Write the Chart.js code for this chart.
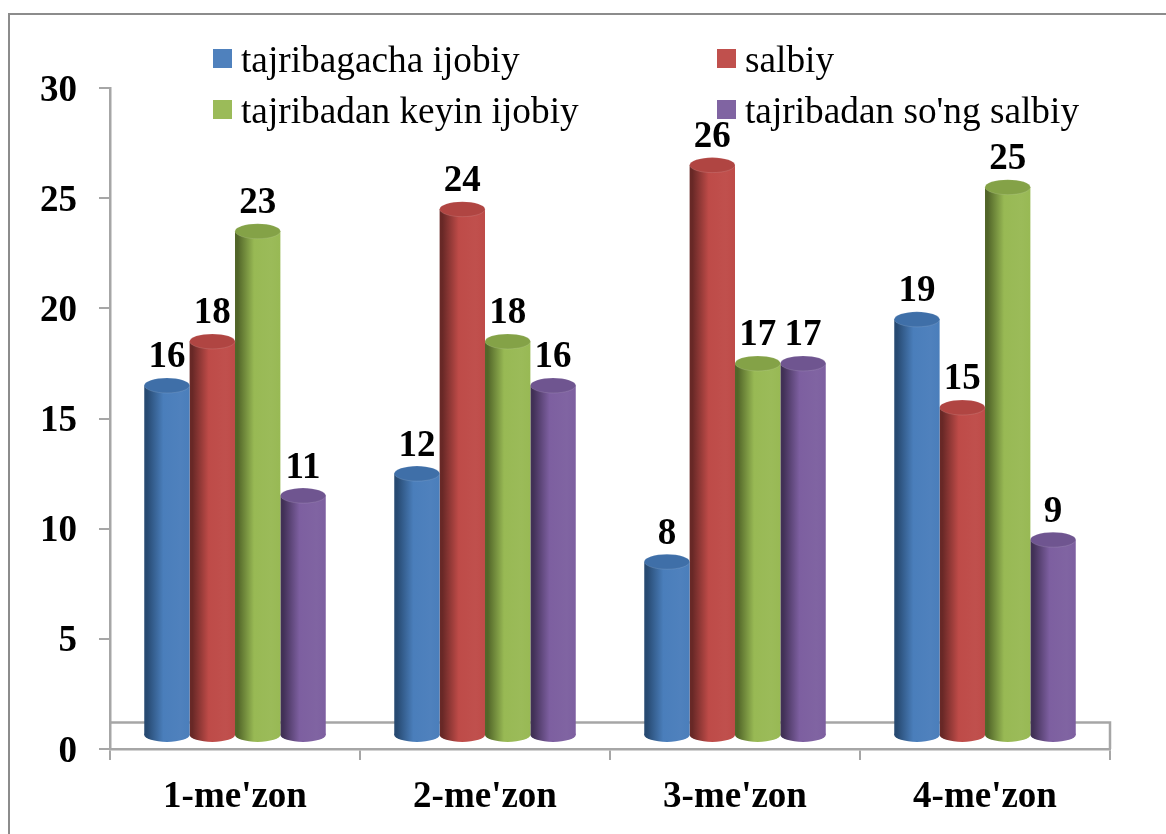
<!DOCTYPE html>
<html>
<head>
<meta charset="utf-8">
<style>
html,body{margin:0;padding:0;background:#fff;width:1166px;height:834px;overflow:hidden}
#wrap{position:absolute;left:0;top:0;width:1166px;height:834px;overflow:hidden}
#frame{position:absolute;left:8px;top:13px;width:1300px;height:1000px;border:2px solid #8c8c8c;box-sizing:border-box}
canvas{position:absolute;left:0;top:0}
</style>
<script src="https://cdn.jsdelivr.net/npm/chart.js@4"></script>
</head>
<body>
<div id="wrap"><div id="frame"></div><canvas id="c" width="1166" height="834"></canvas></div>
<script>
const categories = ["1-me'zon","2-me'zon","3-me'zon","4-me'zon"];
const seriesNames = ["tajribagacha ijobiy","salbiy","tajribadan keyin ijobiy","tajribadan so'ng salbiy"];
const before_pos = [16,12,8,19];
const before_neg = [18,24,26,15];
const after_pos = [23,18,17,25];
const after_neg = [11,16,17,9];
const yTicks = [0,5,10,15,20,25,30];

const palette = [
  {main:'#4f81bd', dark:'#274a72', mid:'#4a7ebb', top:'#3f6fa8'},
  {main:'#c0504d', dark:'#682826', mid:'#be4b48', top:'#b04542'},
  {main:'#9bbb59', dark:'#526629', mid:'#98b954', top:'#84a247'},
  {main:'#8064a2', dark:'#413056', mid:'#7d5fa0', top:'#6f5590'}
];
const serif = '"Liberation Serif","Times New Roman",serif';
const CAT_PCT = 0.726;
const LIFT = 0.5;      // the 3D cylinders rise half a unit above the axis plane
const FLOOR = 1.2;     // back edge of the chart floor, in axis units
const BASE = 0.14;

function sideGradient(ctx,cx,w,p){
  const g = ctx.createLinearGradient(cx-w/2,0,cx+w/2,0);
  g.addColorStop(0,p.dark);
  g.addColorStop(0.06,p.dark);
  g.addColorStop(0.42,p.mid);
  g.addColorStop(0.8,p.main);
  g.addColorStop(1,p.mid);
  return g;
}
function barGradient(c){
  const chart = c.chart, p = palette[c.datasetIndex];
  const xs = chart.scales && chart.scales.x;
  if(!xs || c.dataIndex === undefined) return p.main;
  const w = (xs.getPixelForValue(1)-xs.getPixelForValue(0))*CAT_PCT/4;
  const cx = xs.getPixelForValue(c.dataIndex)+(c.datasetIndex-1.5)*w;
  if(!isFinite(w) || !isFinite(cx) || w<=0) return p.main;
  return sideGradient(chart.ctx,cx,w,p);
}

const cylinders = {
  id:'cylinders',
  beforeDatasetsDraw(chart){
    const {ctx,scales:{x,y}} = chart;
    const fy = y.getPixelForValue(FLOOR);
    ctx.save();
    ctx.strokeStyle='#a6a6a6'; ctx.lineWidth=2.5;
    ctx.beginPath();
    ctx.moveTo(x.left,fy); ctx.lineTo(x.right,fy); ctx.lineTo(x.right,y.bottom);
    ctx.stroke();
    ctx.restore();
  },
  beforeDatasetDraw(chart,args){
    const {ctx,scales:{y}} = chart;
    ctx.save();
    ctx.translate(0,y.getPixelForValue(LIFT)-y.getPixelForValue(0));
    // rounded foot of every cylinder, below the rectangle the library draws
    chart.getDatasetMeta(args.index).data.forEach(bar=>{
      const by = y.getPixelForValue(BASE);
      ctx.beginPath();
      ctx.ellipse(bar.x,by,bar.width/2,7,0,0,Math.PI*2);
      ctx.fillStyle=sideGradient(ctx,bar.x,bar.width,palette[args.index]);
      ctx.fill();
    });
  },
  afterDatasetDraw(chart,args){
    const {ctx} = chart;
    const p = palette[args.index];
    chart.getDatasetMeta(args.index).data.forEach(bar=>{
      ctx.beginPath();
      ctx.ellipse(bar.x,bar.y,bar.width/2,7.5,0,0,Math.PI*2);
      ctx.fillStyle=p.top; ctx.fill();
      ctx.lineWidth=1; ctx.strokeStyle='rgba(255,255,255,0.12)'; ctx.stroke();
    });
    ctx.restore();
  },
  afterDatasetsDraw(chart){
    const {ctx,scales:{y}} = chart;
    const lift = y.getPixelForValue(LIFT)-y.getPixelForValue(0);
    ctx.save();
    ctx.fillStyle='#000';
    ctx.font='bold 37px '+serif;
    ctx.textAlign='center'; ctx.textBaseline='alphabetic';
    chart.data.datasets.forEach((ds,d)=>{
      chart.getDatasetMeta(d).data.forEach((bar,i)=>{
        ctx.fillText(String(ds.data[i]),bar.x,bar.y+lift-18);
      });
    });
    // legend: two aligned columns inside the top of the plot
    const colX=[213,717], rowY=[49,100];
    ctx.textAlign='left';
    ctx.font='37.3px '+serif;
    chart.data.datasets.forEach((ds,d)=>{
      const sx=colX[d%2], sy=rowY[d>>1];
      ctx.fillStyle=palette[d].main;
      ctx.fillRect(sx,sy,19,19);
      ctx.fillStyle='#000';
      ctx.fillText(ds.label,sx+28,sy+22.5);
    });
    ctx.restore();
  }
};

new Chart(document.getElementById('c'),{
  type:'bar',
  data:{
    labels:categories,
    datasets:[before_pos,before_neg,after_pos,after_neg].map((values,i)=>({
      label:seriesNames[i],
      data:values,
      base:BASE,
      backgroundColor:barGradient,
      borderWidth:0,
      barPercentage:1,
      categoryPercentage:CAT_PCT
    }))
  },
  plugins:[cylinders],
  options:{
    responsive:false,
    animation:false,
    devicePixelRatio:1,
    layout:{padding:{left:0,right:56,top:88,bottom:0}},
    plugins:{legend:{display:false},tooltip:{enabled:false},title:{display:false}},
    scales:{
      x:{
        offset:true,
        afterFit(s){s.height=85;},
        grid:{display:true,drawOnChartArea:false,drawTicks:true,tickLength:11,color:'#a6a6a6',lineWidth:2,offset:true},
        border:{color:'#a6a6a6',width:2.5},
        ticks:{color:'#000',padding:15,font:{family:serif,size:37,weight:'bold'},maxRotation:0}
      },
      y:{
        min:0,max:30,
        afterBuildTicks(s){s.ticks=yTicks.map(v=>({value:v}));},
        afterFit(s){
          s.width=110;
          if(!s._labelsNudged){
            s._labelsNudged=true;
            const draw=s.drawLabels.bind(s);
            s.drawLabels=function(area){
              const c=s.ctx; c.save(); c.translate(0,3); draw(area); c.restore();
            };
          }
        },
        grid:{display:true,drawOnChartArea:false,tickLength:11,color:'#a6a6a6',lineWidth:2},
        border:{color:'#a6a6a6',width:2.5},
        ticks:{color:'#000',padding:22,font:{family:serif,size:37,weight:'bold'}}
      }
    }
  }
});
</script>
</body>
</html>
